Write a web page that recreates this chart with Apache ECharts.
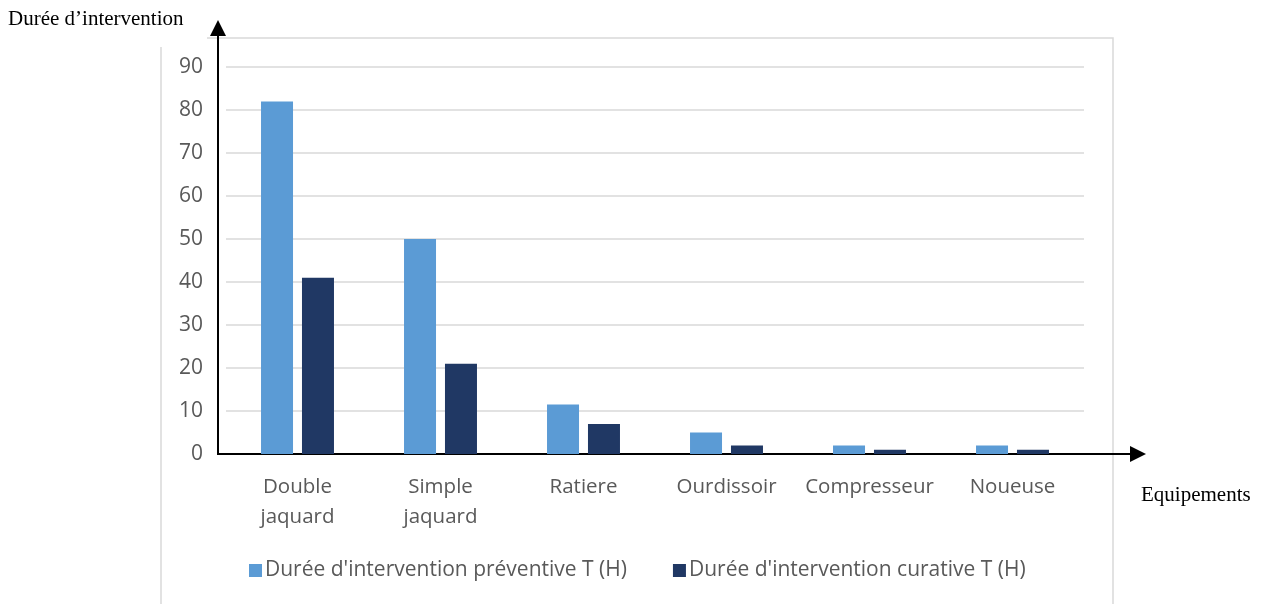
<!DOCTYPE html>
<html>
<head>
<meta charset="utf-8">
<script src="https://cdn.jsdelivr.net/npm/echarts@6/dist/echarts.min.js"></script>
<style>
  html, body { margin: 0; padding: 0; background: #ffffff; }
  #chart { width: 1262px; height: 604px; }
</style>
</head>
<body>
<div id="chart"></div>
<script>
// Equipment categories and intervention durations (hours)
const categories = ['Double\njaquard', 'Simple\njaquard', 'Ratiere', 'Ourdissoir', 'Compresseur', 'Noueuse'];
const preventive = [82, 50, 11.5, 5, 2, 2];
const curative = [41, 21, 7, 2, 1, 1];
const yTicks = { min: 0, max: 90, interval: 10 };

const seriesNames = ["Durée d'intervention préventive T (H)", "Durée d'intervention curative T (H)"];
const colors = ['#5B9BD5', '#203864'];

const GRID = { left: 226, right: 178, top: 67, bottom: 150 };
const labelFont = '"Open Sans", sans-serif';
const serifFont = '"Liberation Serif", "Times New Roman", serif';

const chart = echarts.init(document.getElementById('chart'), null, { renderer: 'canvas' });

chart.setOption({
  animation: false,
  backgroundColor: '#ffffff',
  color: colors,
  grid: { left: GRID.left, right: GRID.right, top: GRID.top, bottom: GRID.bottom, containLabel: false },
  legend: {
    bottom: 21,
    left: 249,
    padding: [2, 0, 2, 0],
    itemWidth: 13,
    itemHeight: 13,
    itemGap: 46,
    icon: 'rect',
    textStyle: { color: '#595959', fontSize: 21, fontFamily: labelFont, padding: [0, 0, 0, -2] },
    data: seriesNames
  },
  xAxis: {
    type: 'category',
    data: categories,
    axisLine: { show: false },
    axisTick: { show: false },
    axisLabel: { interval: 0, color: '#595959', fontSize: 20.5, fontFamily: labelFont, lineHeight: 30, margin: 18 }
  },
  yAxis: {
    type: 'value',
    min: yTicks.min,
    max: yTicks.max,
    interval: yTicks.interval,
    axisLine: { show: false },
    axisTick: { show: false },
    axisLabel: { color: '#595959', fontSize: 21, fontFamily: labelFont, margin: 23 },
    splitLine: { lineStyle: { color: '#d9d9d9', width: 1.5 } }
  },
  series: [
    { name: seriesNames[0], type: 'bar', data: preventive, barWidth: 32, barGap: '28%', itemStyle: { color: colors[0] } },
    { name: seriesNames[1], type: 'bar', data: curative, barWidth: 32, barGap: '28%', itemStyle: { color: colors[1] } }
  ]
});

// Frame, arrowed axes and axis titles, placed from the grid geometry
const y0 = chart.convertToPixel({ yAxisIndex: 0 }, 0);
const axisX = GRID.left - 8;
const frameStroke = { stroke: '#d9d9d9', lineWidth: 1.5 };
const axisStroke = { stroke: '#000000', lineWidth: 2 };

chart.setOption({
  graphic: [
    { type: 'polyline', silent: true, shape: { points: [[161, 604], [161, 47]] }, style: frameStroke },
    { type: 'polyline', silent: true, shape: { points: [[207, 38], [1113, 38], [1113, 604]] }, style: frameStroke },
    { type: 'line', silent: true, shape: { x1: axisX, y1: y0, x2: axisX, y2: 34 }, style: axisStroke },
    { type: 'polygon', silent: true, shape: { points: [[axisX, 20], [axisX - 8, 36], [axisX + 8, 36]] }, style: { fill: '#000' } },
    { type: 'line', silent: true, shape: { x1: axisX - 1, y1: y0, x2: 1132, y2: y0 }, style: axisStroke },
    { type: 'polygon', silent: true, shape: { points: [[1146, y0], [1130, y0 - 8], [1130, y0 + 8]] }, style: { fill: '#000' } },
    { type: 'text', silent: true, x: 8, y: 19, style: { text: 'Durée d’intervention', fill: '#000', font: '21px ' + serifFont, verticalAlign: 'middle' } },
    { type: 'text', silent: true, x: 1141, y: 495, style: { text: 'Equipements', fill: '#000', font: '21px ' + serifFont, verticalAlign: 'middle' } }
  ]
});
</script>
</body>
</html>
